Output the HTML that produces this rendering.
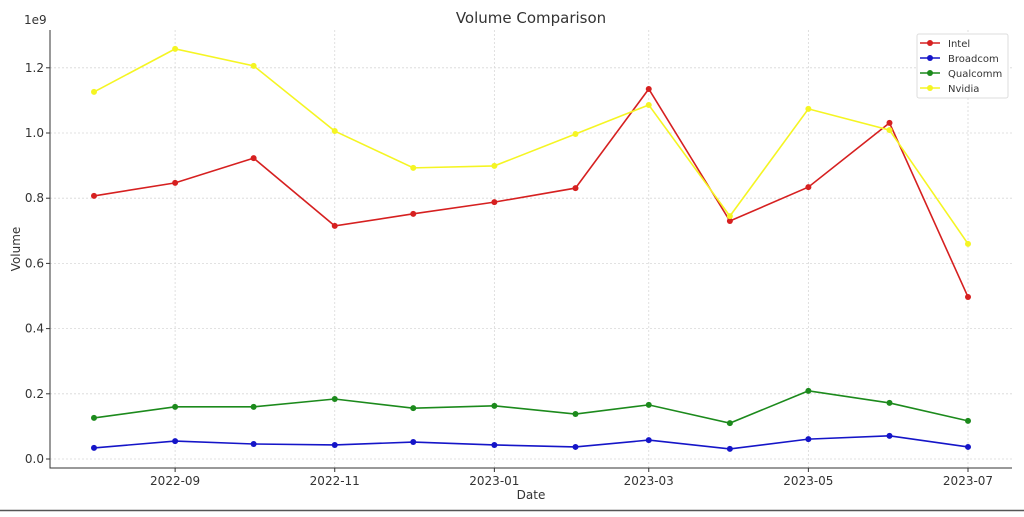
<!DOCTYPE html>
<html><head><meta charset="utf-8"><style>
body{margin:0;background:#fff;font-family:"Liberation Sans","DejaVu Sans",sans-serif}
svg text{font-family:"DejaVu Sans","Liberation Sans",sans-serif;fill:#333}
</style></head><body>
<svg id="chart" width="1024" height="512" xmlns="http://www.w3.org/2000/svg"></svg>
<script>
const dates=["2022-08-01","2022-09-01","2022-10-01","2022-11-01","2022-12-01","2023-01-01","2023-02-01","2023-03-01","2023-04-01","2023-05-01","2023-06-01","2023-07-01"];
const intel=[0.807,0.847,0.923,0.715,0.752,0.788,0.831,1.135,0.730,0.834,1.031,0.497];
const broadcom=[0.034,0.055,0.046,0.043,0.052,0.043,0.037,0.058,0.031,0.061,0.071,0.037];
const qualcomm=[0.126,0.160,0.160,0.184,0.156,0.163,0.138,0.166,0.110,0.209,0.172,0.117];
const nvidia=[1.126,1.258,1.206,1.006,0.893,0.899,0.997,1.086,0.745,1.074,1.009,0.660];
const yTicks=[0,0.2,0.4,0.6,0.8,1.0,1.2];
const xTicks=["2022-09","2022-11","2023-01","2023-03","2023-05","2023-07"];
const seriesNames=["Intel","Broadcom","Qualcomm","Nvidia"];
const seriesColors=["#d62020","#1515c8","#1c8a1c","#f5f523"];

const svg=document.getElementById('chart');
const NS="http://www.w3.org/2000/svg";
function mk(tag,attrs,parent){const e=document.createElementNS(NS,tag);for(const k in attrs)e.setAttribute(k,attrs[k]);(parent||svg).appendChild(e);return e;}
const t0=Date.parse("2022-08-01"),t1=Date.parse("2023-07-01");
function X(d){return 94+(Date.parse(d.length==7?d+"-01":d)-t0)/(t1-t0)*(968-94);}
function Y(v){return 459-v*326;}

yTicks.forEach(v=>{
  const l=mk('line',{x1:50,x2:1012,y1:Y(v),y2:Y(v),stroke:'#d8d8d8','stroke-dasharray':'2,2','stroke-width':0.8});
  
  
  const t=mk('text',{x:44,y:Y(v)+4,'text-anchor':'end','font-size':12});
  t.textContent=v.toFixed(1);
  
  
});
xTicks.forEach(d=>{
  const l=mk('line',{x1:X(d),x2:X(d),y1:30,y2:468,stroke:'#d8d8d8','stroke-dasharray':'2,2','stroke-width':0.8});
  
  
  mk('line',{x1:X(d),x2:X(d),y1:468,y2:472,stroke:'#333'});
  const t=mk('text',{x:X(d),y:485,'text-anchor':'middle','font-size':12});
  t.textContent=d;
  
  
});
yTicks.forEach(v=>mk('line',{x1:46,x2:50,y1:Y(v),y2:Y(v),stroke:'#333'}));
const sp=mk('path',{d:'M50 30 V468 H1012',fill:'none',stroke:'#333','stroke-width':1});


const bl=mk('line',{x1:0,x2:1024,y1:510.5,y2:510.5,stroke:'#555','stroke-width':1.5});



const allData=[intel,broadcom,qualcomm,nvidia];
allData.forEach((arr,i)=>{
  const g=mk('g',{});
  
  
  mk('polyline',{points:arr.map((v,j)=>X(dates[j])+','+Y(v)).join(' '),fill:'none',stroke:seriesColors[i],'stroke-width':1.6},g);
  arr.forEach((v,j)=>{
    const c=mk('circle',{cx:X(dates[j]),cy:Y(v),r:3,fill:seriesColors[i]},g);
    
    
  });
});

const tt=mk('text',{x:531,y:23,'text-anchor':'middle','font-size':15});tt.textContent="Volume Comparison";


const xt=mk('text',{x:531,y:499,'text-anchor':'middle','font-size':12});xt.textContent="Date";


const yt=mk('text',{x:20,y:249,'text-anchor':'middle','font-size':12,transform:'rotate(-90 20 249)'});yt.textContent="Volume";


const off=mk('text',{x:24,y:24,'font-size':12});off.textContent="1e9";



const lg=mk('g',{});


mk('rect',{x:917,y:34,width:91,height:64,fill:'#fff',stroke:'#ddd',rx:2},lg);
seriesNames.forEach((n,i)=>{
  const y=43+i*15;
  const e=mk('g',{},lg);
  
  
  mk('line',{x1:920,x2:940,y1:y,y2:y,stroke:seriesColors[i],'stroke-width':1.6},e);
  mk('circle',{cx:930,cy:y,r:3,fill:seriesColors[i]},e);
  const t=mk('text',{x:948,y:y+4,'font-size':10},e);t.textContent=n;
});
</script>
</body></html>
